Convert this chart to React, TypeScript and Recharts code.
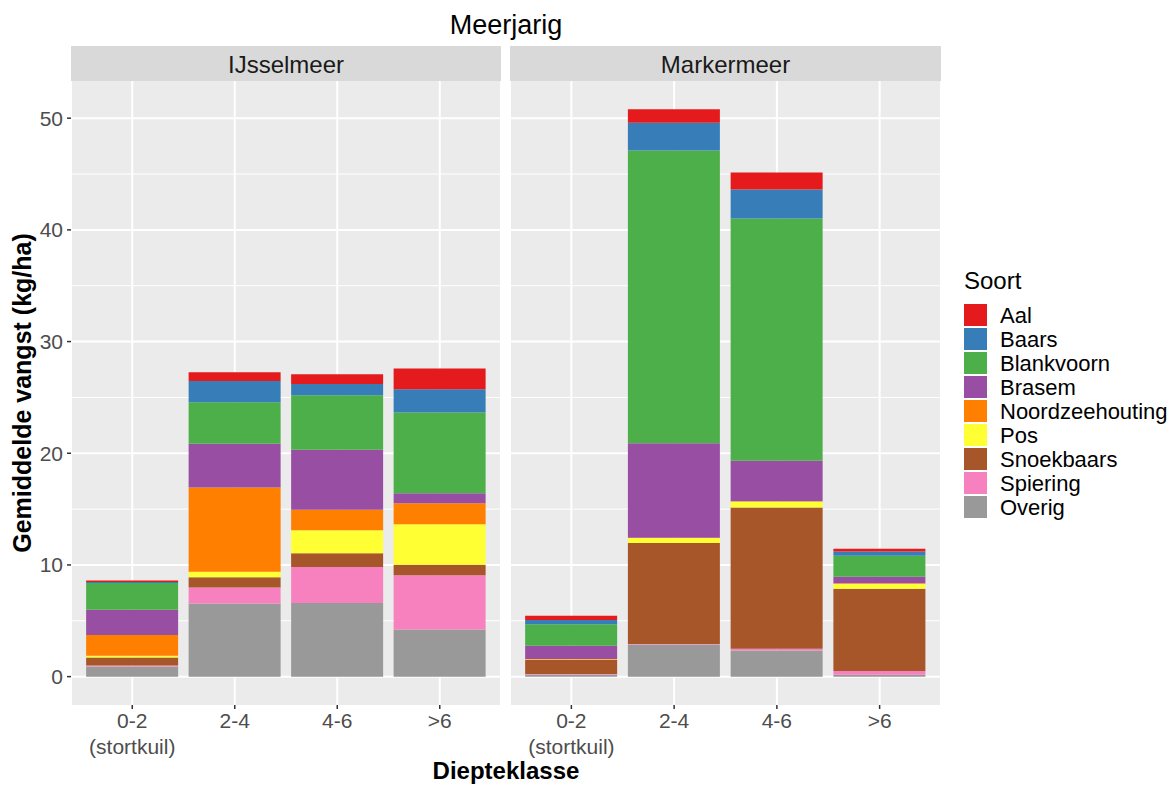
import React from "react";
import { BarChart, Bar, XAxis, YAxis, CartesianGrid } from "recharts";

const depthClasses = ["0-2\n(stortkuil)", "2-4", "4-6", ">6"];
const lakes = ["IJsselmeer", "Markermeer"];
const yTicks = [0, 10, 20, 30, 40, 50];
const yMinor = [5, 15, 25, 35, 45];

const species = ["Aal", "Baars", "Blankvoorn", "Brasem", "Noordzeehouting", "Pos", "Snoekbaars", "Spiering", "Overig"];
const speciesColors = ["#E41A1C", "#377EB8", "#4DAF4A", "#984EA3", "#FF7F00", "#FFFF33", "#A65628", "#F781BF", "#999999"];

// IJsselmeer (kg/ha) per depth class
const ijAal = [0.12, 0.78, 0.87, 1.85];
const ijBaars = [0.1, 1.91, 1.01, 2.09];
const ijBlankvoorn = [2.39, 3.73, 4.87, 7.22];
const ijBrasem = [2.27, 3.91, 5.37, 0.9];
const ijNoordzeehouting = [1.85, 7.55, 1.85, 1.88];
const ijPos = [0.15, 0.48, 2.06, 3.64];
const ijSnoekbaars = [0.72, 0.93, 1.22, 0.93];
const ijSpiering = [0.1, 1.43, 3.22, 4.87];
const ijOverig = [0.9, 6.54, 6.6, 4.21];

// Markermeer (kg/ha) per depth class
const mkAal = [0.38, 1.2, 1.51, 0.24];
const mkBaars = [0.38, 2.5, 2.6, 0.38];
const mkBlankvoorn = [1.92, 26.2, 21.68, 1.88];
const mkBrasem = [1.2, 8.46, 3.63, 0.58];
const mkNoordzeehouting = [0.04, 0.02, 0.02, 0.05];
const mkPos = [0.03, 0.45, 0.55, 0.45];
const mkSnoekbaars = [1.27, 9.04, 12.64, 7.36];
const mkSpiering = [0.03, 0.05, 0.17, 0.34];
const mkOverig = [0.2, 2.88, 2.33, 0.17];

const ijSeries = [ijAal, ijBaars, ijBlankvoorn, ijBrasem, ijNoordzeehouting, ijPos, ijSnoekbaars, ijSpiering, ijOverig];
const mkSeries = [mkAal, mkBaars, mkBlankvoorn, mkBrasem, mkNoordzeehouting, mkPos, mkSnoekbaars, mkSpiering, mkOverig];

const buildRows = (series: number[][]) =>
  depthClasses.map((d, i) => {
    const row: Record<string, any> = { klasse: d };
    species.forEach((s, k) => {
      row[s] = series[k][i];
    });
    return row;
  });

const FONT = "'Liberation Sans', Arial, sans-serif";
const Y_DOMAIN: [number, number] = [-2.54, 53.33];
const PLOT_H = 624;
const XAXIS_H = 80;

const XTick = (props: any) => {
  const { x, y, payload } = props;
  const lines = String(payload.value).split("\n");
  return (
    <text x={x} y={y} textAnchor="middle" fill="#4D4D4D" fontSize={21} fontFamily={FONT}>
      {lines.map((l, i) => (
        <tspan key={i} x={x} dy={i === 0 ? 17 : 26}>
          {l}
        </tspan>
      ))}
    </text>
  );
};

const Panel = ({ series, withY, width }: { series: number[][]; withY: boolean; width: number }) => {
  const data = buildRows(series);
  const order = [...species].reverse();
  return (
    <BarChart
      width={width}
      height={PLOT_H + XAXIS_H}
      data={data}
      margin={{ top: 0, right: 0, bottom: 0, left: 0 }}
      barCategoryGap="5%"
    >
      <CartesianGrid
        fill="#EBEBEB"
        stroke="#FFFFFF"
        strokeWidth={1}
        vertical={false}
        horizontalValues={yMinor}
      />
      <CartesianGrid stroke="#FFFFFF" strokeWidth={2} horizontalValues={yTicks} />
      <XAxis
        dataKey="klasse"
        type="category"
        axisLine={false}
        tickSize={4}
        tickMargin={2}
        tickLine={{ stroke: "#333333", strokeWidth: 1.5 }}
        padding={{ left: 10, right: 10 }}
        height={XAXIS_H}
        interval={0}
        tick={<XTick />}
      />
      <YAxis
        hide={!withY}
        width={withY ? 71 : 0}
        domain={Y_DOMAIN}
        allowDataOverflow
        ticks={yTicks}
        axisLine={false}
        tickSize={4}
        tickMargin={4}
        tickLine={{ stroke: "#333333", strokeWidth: 1.5 }}
        tick={{ fill: "#4D4D4D", fontSize: 21, fontFamily: FONT }}
      />
      {order.map((s) => (
        <Bar
          key={s}
          dataKey={s}
          stackId="a"
          fill={speciesColors[species.indexOf(s)]}
          isAnimationActive={false}
        />
      ))}
    </BarChart>
  );
};

export default function App() {
  return (
    <div
      style={{
        position: "absolute",
        left: 0,
        top: 0,
        width: 1176,
        height: 785,
        background: "#FFFFFF",
        fontFamily: FONT,
        overflow: "hidden",
      }}
    >
      <svg width={1176} height={785} style={{ position: "absolute", left: 0, top: 0 }}>
        <text x={506} y={34} textAnchor="middle" fontSize={27} fill="#000" fontFamily={FONT}>
          Meerjarig
        </text>
        <rect x={71} y={46} width={430} height={35} fill="#D9D9D9" />
        <rect x={510} y={46} width={431} height={35} fill="#D9D9D9" />
        <text x={286} y={73} textAnchor="middle" fontSize={24} fill="#1A1A1A" fontFamily={FONT}>
          {lakes[0]}
        </text>
        <text x={725.5} y={73} textAnchor="middle" fontSize={24} fill="#1A1A1A" fontFamily={FONT}>
          {lakes[1]}
        </text>
        <text
          x={506}
          y={779}
          textAnchor="middle"
          fontSize={24}
          fontWeight="bold"
          fill="#000"
          fontFamily={FONT}
        >
          Diepteklasse
        </text>
        <text
          transform="translate(31,393) rotate(-90)"
          textAnchor="middle"
          fontSize={25}
          fontWeight="bold"
          fill="#000"
          fontFamily={FONT}
        >
          Gemiddelde vangst (kg/ha)
        </text>
        <text x={964} y={289} fontSize={24} fill="#000" fontFamily={FONT}>
          Soort
        </text>
        {species.map((s, i) => (
          <g key={s}>
            <rect x={964} y={304 + i * 24} width={23} height={22} fill={speciesColors[i]} />
            <text x={1000} y={323 + i * 24} fontSize={22} fill="#000" fontFamily={FONT}>
              {s}
            </text>
          </g>
        ))}
      </svg>
      <div style={{ position: "absolute", left: 0, top: 81 }}>
        <Panel series={ijSeries} withY={true} width={501} />
      </div>
      <div style={{ position: "absolute", left: 510, top: 81 }}>
        <Panel series={mkSeries} withY={false} width={431} />
      </div>
    </div>
  );
}
